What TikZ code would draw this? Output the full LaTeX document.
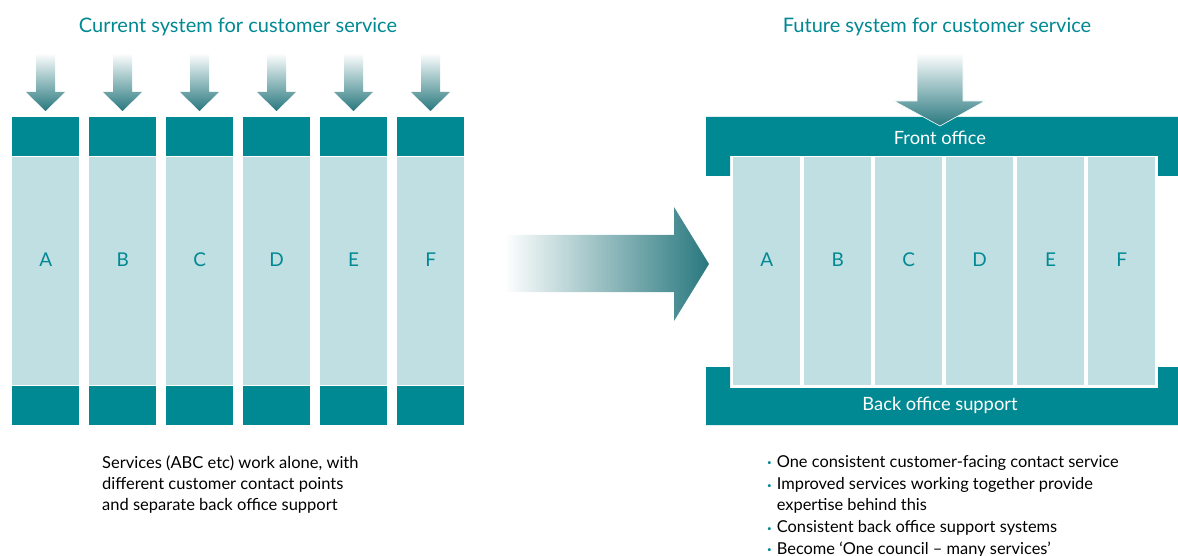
\documentclass[tikz,border=0pt]{standalone}
\usepackage{fontspec}
\setmainfont{Lato}
\usetikzlibrary{positioning}

\definecolor{teal}{RGB}{0,137,146}
\definecolor{paleteal}{RGB}{192,223,227}
\definecolor{arrowteal}{RGB}{40,120,126}

\tikzset{
  colhead/.style={fill=teal, draw=none, minimum width=67pt, minimum height=39pt, anchor=north west, inner sep=0pt},
  colbody/.style={fill=paleteal, draw=none, minimum width=67pt, minimum height=228pt, anchor=north west, inner sep=0pt},
  letter/.style={text=teal, font=\fontsize{19}{20}\selectfont},
  title/.style={text=teal, font=\fontsize{20}{22}\selectfont},
  bartext/.style={text=white, font=\fontsize{18.3}{20}\selectfont},
  caption/.style={align=left, anchor=north west, inner sep=0pt, font=\fontsize{16.5}{21}\selectfont},
  bullet/.style={anchor=north west, inner sep=0pt, align=left, font=\fontsize{16.4}{20.5}\selectfont}
}

\newcommand{\tdot}{\textcolor{teal}{\raisebox{0.2ex}{\fontsize{8}{8}\selectfont\textbullet}}}

\begin{document}
\begin{tikzpicture}[x=1pt, y=-1pt]
  \useasboundingbox (0,0) rectangle (1178,556);

  % left: six separate services
  \node[title] (curtitle) at (238,27) {Current system for customer service};
  \foreach \l [count=\i] in {A,B,C,D,E,F} {
    \pgfmathsetmacro{\xx}{12+77*(\i-1)}
    \node[colhead] (top\l) at (\xx,117) {};
    \node[colbody] (col\l) at (\xx,157) {};
    \node[letter] (lab\l) at ([yshift=12pt]col\l.center) {\l};
    \node[colhead] (bot\l) at (\xx,386) {};
    % incoming contact arrow
    \shade[top color=white, bottom color=arrowteal]
      (\xx+24,53) -- (\xx+43,53) -- (\xx+43,92) -- (\xx+53,92) -- (\xx+33.5,111)
      -- (\xx+14,92) -- (\xx+24,92) -- cycle;
  }
  \node[caption] (curtext) at (102,456) {Services (ABC etc) work alone, with\\different customer contact points\\and separate back office support};

  % big arrow in the middle
  \shade[left color=white, right color=arrowteal]
    (504,235) -- (674,235) -- (674,207) -- (709,264) -- (674,321) -- (674,292) -- (504,292) -- cycle;

  % right: shared front and back office
  \node[title] (futtitle) at (937,27) {Future system for customer service};
  \fill[teal] (706,117) -- (1178,117) -- (1178,176) -- (1158,176) -- (1158,156)
    -- (730,156) -- (730,176) -- (706,176) -- cycle;
  \fill[teal] (706,367) -- (730,367) -- (730,388) -- (1158,388) -- (1158,367)
    -- (1178,367) -- (1178,425) -- (706,425) -- cycle;
  \foreach \l [count=\i] in {A,B,C,D,E,F} {
    \pgfmathsetmacro{\xx}{733+71*(\i-1)}
    \node[colbody] (new\l) at (\xx,157) {};
    \node[letter] (nlab\l) at ([yshift=12pt]new\l.center) {\l};
  }
  \shade[top color=white, bottom color=arrowteal, draw=white, line width=0.6pt]
    (917,53) -- (963,53) -- (963,101) -- (985,101) -- (940,126)
    -- (894,101) -- (917,101) -- cycle;
  \node[bartext] (front) at (940,138) {Front office};
  \node[bartext] (back) at (940,405) {Back office support};

  \node[bullet] (futtext) at (767,455) {%
    \tdot\hspace{5pt}One consistent customer-facing contact service\\[2pt]
    \tdot\hspace{5pt}Improved services working together provide\\
    \phantom{\tdot}\hspace{5pt}expertise behind this\\[2pt]
    \tdot\hspace{5pt}Consistent back office support systems\\[1pt]
    \tdot\hspace{5pt}Become `One council -- many services'};
\end{tikzpicture}
\end{document}
